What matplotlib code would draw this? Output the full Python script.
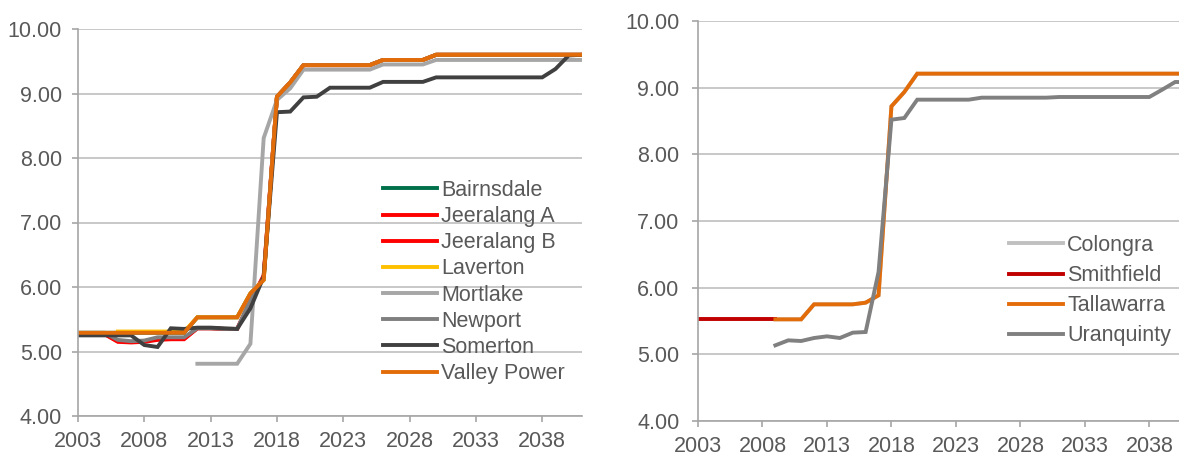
import numpy as np
import matplotlib
matplotlib.use("Agg")
import matplotlib.pyplot as plt
from matplotlib.ticker import FormatStrFormatter

plt.rcParams['font.family'] = ['Liberation Sans', 'DejaVu Sans']

nan = np.nan
years = np.arange(2003, 2042)
year_ticks = [2003, 2008, 2013, 2018, 2023, 2028, 2033, 2038]
value_ticks = [4, 5, 6, 7, 8, 9, 10]

# left chart (Victoria)
valley_power = [5.29]*9 + [5.53]*4 + [5.90, 6.11, 8.95, 9.17] + [9.44]*6 + [9.52]*4 + [9.60]*12
bairnsdale = [5.29]*9 + [5.53]*4 + [5.90, 6.11, 8.95, 9.17] + [9.44]*6 + [9.52]*4 + [9.60]*12
jeeralang_a = [5.27]*3 + [5.15, 5.14, 5.15, 5.18, 5.19, 5.19] + [5.36, 5.36, 5.35, 5.35, 5.78, 6.18, 8.95, 9.17] + [9.44]*6 + [9.52]*4 + [9.60]*12
jeeralang_b = [5.27]*3 + [5.16, 5.15, 5.16, 5.19, 5.20, 5.20] + [5.36, 5.36, 5.35, 5.35, 5.78, 6.16, 8.95, 9.17] + [9.44]*6 + [9.52]*4 + [9.60]*12
laverton = [nan]*3 + [5.31]*6 + [5.53]*4 + [5.90, 6.11, 8.95, 9.17] + [9.44]*6 + [9.52]*4 + [9.60]*12
mortlake = [nan]*9 + [4.81]*4 + [5.12, 8.31, 8.90, 9.08] + [9.37]*6 + [9.45]*4 + [9.52]*12
newport = [5.29]*3 + [5.18, 5.16, 5.17, 5.22, 5.22, 5.22] + [5.36, 5.36, 5.35, 5.35, 5.80, 6.15, 8.95, 9.17] + [9.44]*6 + [9.52]*4 + [9.60]*12
somerton = [5.25]*5 + [5.10, 5.07, 5.36, 5.35, 5.37, 5.37, 5.36, 5.35, 5.67, 6.16, 8.71, 8.72, 8.94, 8.95] \
    + [9.09]*4 + [9.18]*4 + [9.25]*9 + [9.38, 9.59, 9.60]

# right chart (NSW)
smithfield = [5.525]*7 + [nan]*32
tallawarra = [nan]*6 + [5.525]*3 + [5.75]*4 + [5.775, 5.885, 8.72, 8.935] + [9.21]*22
colongra = [nan]*6 + [5.525]*3 + [5.75]*4 + [5.775, 5.885, 8.72, 8.935] + [9.21]*22
uranquinty = [nan]*6 + [5.135, 5.21, 5.20, 5.245, 5.27, 5.245, 5.325, 5.335, 6.235, 8.52, 8.545] \
    + [8.82]*5 + [8.85]*6 + [8.86]*8 + [8.97, 9.085, 9.085]

left_series = [
    ("Bairnsdale", bairnsdale, "#00704a"),
    ("Jeeralang A", jeeralang_a, "#ff0000"),
    ("Jeeralang B", jeeralang_b, "#ff0000"),
    ("Laverton", laverton, "#ffc000"),
    ("Mortlake", mortlake, "#a6a6a6"),
    ("Newport", newport, "#7f7f7f"),
    ("Somerton", somerton, "#404040"),
    ("Valley Power", valley_power, "#e36c0a"),
]
right_series = [
    ("Colongra", colongra, "#c0c0c0"),
    ("Smithfield", smithfield, "#c00000"),
    ("Tallawarra", tallawarra, "#e36c0a"),
    ("Uranquinty", uranquinty, "#808080"),
]

text_col = "#595959"
fs = 15.5

fig = plt.figure(figsize=(11.79, 4.55), dpi=100)
ax1 = fig.add_axes([78/1179, 39/455, 504/1179, 387/455])
ax2 = fig.add_axes([698/1179, 34/455, 481/1179, 400/455])


def style(ax, xmax, ypad):
    ax.set_xlim(2003, xmax)
    ax.set_ylim(4, 10)
    ax.set_xticks(year_ticks)
    ax.set_yticks(value_ticks)
    ax.yaxis.set_major_formatter(FormatStrFormatter('%.2f'))
    ax.grid(axis='y', color='#bfbfbf', lw=1.2)
    ax.set_axisbelow(True)
    for s in ['top', 'right']:
        ax.spines[s].set_visible(False)
    for s in ['left', 'bottom']:
        ax.spines[s].set_color('#a6a6a6')
        ax.spines[s].set_linewidth(1.2)
    ax.tick_params(colors='#a6a6a6', labelcolor=text_col, labelsize=fs, length=4.5, width=1.2)
    ax.tick_params(axis='x', pad=6)
    ax.tick_params(axis='y', pad=ypad)


for name, vals, col in left_series:
    ax1.plot(years, vals, color=col, lw=2.8, label=name, solid_joinstyle='miter')
style(ax1, 2041, 7)
ax1.legend(loc='upper left', bbox_to_anchor=(383/1179, 1 - 180/455), bbox_transform=fig.transFigure,
           frameon=False, fontsize=fs, labelcolor=text_col, handlelength=2.5, handletextpad=0.2,
           labelspacing=0.24, borderpad=0, borderaxespad=0)

for name, vals, col in right_series:
    ax2.plot(years, vals, color=col, lw=2.8, label=name, solid_joinstyle='miter')
style(ax2, 2040.3, 9)
ax2.legend(loc='upper left', bbox_to_anchor=(1009/1179, 1 - 235/455), bbox_transform=fig.transFigure,
           frameon=False, fontsize=fs, labelcolor=text_col, handlelength=2.5, handletextpad=0.2,
           labelspacing=0.42, borderpad=0, borderaxespad=0)

fig.savefig("out.png", dpi=100)
